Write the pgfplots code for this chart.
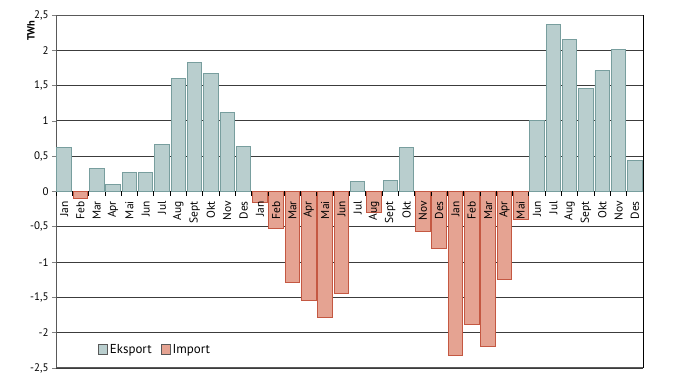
\documentclass[border=0pt]{standalone}
\usepackage{fontspec}
\setmainfont{PT Sans}
\usepackage{pgfplots}
\pgfplotsset{compat=1.18}
\definecolor{expfill}{RGB}{185,206,206}
\definecolor{expedge}{RGB}{120,158,158}
\definecolor{impfill}{RGB}{229,163,146}
\definecolor{impedge}{RGB}{196,88,66}
\definecolor{gridc}{RGB}{60,60,60}
\pgfplotsset{layers/mylayers/.define layer set={axis background,axis grid,axis ticks,axis lines,pre main,main,axis tick labels,axis descriptions,axis foreground}{/pgfplots/layers/standard}}
\begin{document}
\begin{tikzpicture}
\begin{axis}[
  set layers=mylayers, clip=false,
  at={(56bp,15bp)}, anchor=south west,
  scale only axis, width=587bp, height=353bp,
  xmin=-0.5, xmax=35.5, ymin=-2.5, ymax=2.5,
  ytick={-2.5,-2,...,2.5},
  xtick={0,...,35},
  xticklabels={Jan,Feb,Mar,Apr,Mai,Jun,Jul,Aug,Sept,Okt,Nov,Des,Jan,Feb,Mar,Apr,Mai,Jun,Jul,Aug,Sept,Okt,Nov,Des,Jan,Feb,Mar,Apr,Mai,Jun,Jul,Aug,Sept,Okt,Nov,Des},
  x tick style={draw=none},
  xticklabel style={yshift=172bp, rotate=90, anchor=east, font=\fontsize{11.5}{12}\selectfont, inner sep=1bp},
  yticklabel style={font=\fontsize{11}{12}\selectfont},
  y tick style={draw=gray, line width=0.8bp},
  major tick length=4bp,
  tick align=outside, ytick pos=left,
  /pgf/number format/use comma,
  /pgf/number format/assume math mode=true,
  ymajorgrids, grid style={gridc, line width=0.9bp},
  extra y ticks={0}, extra y tick labels={},
  extra y tick style={grid style={black, line width=1.1bp}},
  axis line style={draw=gray!70!black, line width=1bp},
  ybar, bar width=14.5bp,
  legend style={at={(rel axis cs:0.066,0.052)}, anchor=west, draw=none, fill=none,
    font=\fontsize{13}{14}\selectfont, legend columns=2,
    /tikz/every even column/.append style={column sep=7bp}},
  legend image code/.code={\draw[#1, draw=gray!70!black, line width=0.5bp] (0bp,-4.5bp) rectangle (9.5bp,5bp);},
]
\addplot[bar shift=0pt, fill=expfill, draw=expedge, line width=0.9bp] coordinates {
(0,0.63)(2,0.32)(3,0.10)(4,0.27)(5,0.275)(6,0.66)(7,1.60)(8,1.83)(9,1.675)(10,1.12)(11,0.64)
(18,0.14)(20,0.15)(21,0.62)
(29,1.01)(30,2.37)(31,2.155)(32,1.46)(33,1.71)(34,2.01)(35,0.44)};
\addlegendentry{Eksport}
\addplot[bar shift=0pt, fill=impfill, draw=impedge, line width=0.9bp] coordinates {
(1,-0.1)(12,-0.15)(13,-0.52)(14,-1.29)(15,-1.54)(16,-1.78)(17,-1.45)(19,-0.30)
(22,-0.57)(23,-0.80)(24,-2.32)(25,-1.89)(26,-2.19)(27,-1.24)(28,-0.39)};
\addlegendentry{Import}
\pgfplotsinvokeforeach{-0.5,0.5,...,35.5}{\draw[black, line width=0.8bp] (axis cs:#1,0) -- ++(0bp,-4bp);}
\draw[black, line width=1bp] (rel axis cs:1,0) -- (rel axis cs:1,1);
\node[rotate=90, anchor=east, font=\bfseries\fontsize{10.5}{11}\selectfont] at ([xshift=-25bp,yshift=-2bp]rel axis cs:0,1) {TWh};
\end{axis}
\pgfresetboundingbox
\path[use as bounding box] (0,0) rectangle (680bp,383bp);
\end{tikzpicture}
\end{document}
